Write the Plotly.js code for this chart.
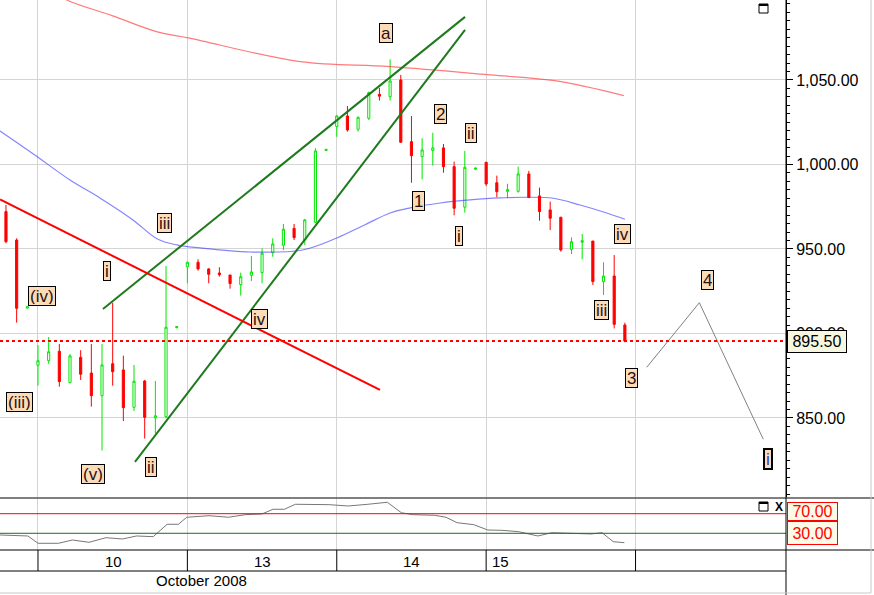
<!DOCTYPE html>
<html><head><meta charset="utf-8">
<script src="https://cdn.plot.ly/plotly-3.0.1.min.js"></script>
<style>html,body{margin:0;padding:0;background:#fff;overflow:hidden}#chart{width:874px;height:595px}</style>
</head><body><div id="chart"></div>
<script>
// ---- candle data (30-min bars, index 0..58) ----
const openP  = [972.1,955.3,915.0,881.2,883.9,889.5,870.9,885.9,876.6,863.2,882.1,878.4,856.3,871.9,850.0,850.8,903.5,939.5,942.1,938.2,935.8,934.6,928.9,934.4,936.0,947.8,952.2,962.2,955.3,965.8,1008.3,1022.4,1028.7,1020.8,1027.3,1041.5,1040.1,1050.0,1013.5,1004.6,1008.2,1009.8,998.7,974.7,997.2,1001.3,989.2,984.1,984.1,994.4,981.4,973.1,968.8,949.8,954.0,954.7,930.7,934.0,905.0];
const highP  = [976.0,956.3,916.0,893.2,897.9,893.8,887.9,890.1,893.8,893.8,918.2,886.9,881.4,872.5,871.9,939.9,904.3,942.5,943.9,938.6,939.2,934.6,936.0,945.9,950.4,956.3,964.8,964.8,967.8,1009.6,1009.2,1029.3,1034.6,1028.3,1043.1,1045.3,1062.2,1053.0,1028.7,1015.5,1018.8,1012.1,1001.7,1008.0,998.2,1001.3,993.4,988.6,998.7,996.2,986.3,978.0,968.8,956.9,958.9,954.7,942.1,946.4,906.4];
const lowP   = [953.4,906.4,915.0,869.1,882.1,868.5,870.5,872.5,856.7,830.7,869.1,848.2,854.1,837.8,840.9,849.8,903.0,929.7,937.2,929.7,933.6,926.5,922.4,931.0,929.7,945.4,949.4,955.3,952.4,965.2,1008.2,1016.4,1019.4,1019.4,1026.3,1037.8,1037.8,1013.1,989.2,991.2,999.3,995.1,969.9,971.5,996.8,987.3,980.6,980.0,983.3,980.4,966.7,961.2,948.4,947.0,943.9,928.7,922.8,903.0,894.8];
const closeP = [954.3,914.9,915.8,883.9,889.2,871.5,886.7,875.9,863.2,881.4,877.4,856.1,871.7,850.4,851.3,903.7,904.0,942.1,938.2,935.0,934.8,929.5,933.6,936.4,947.5,953.0,961.7,956.7,967.2,1008.0,1008.9,1028.7,1020.4,1027.9,1042.5,1040.4,1049.4,1013.1,1005.2,1008.6,1009.8,998.7,974.1,998.3,997.8,988.5,983.9,985.1,994.4,980.4,972.1,968.2,949.4,954.3,954.9,930.7,934.0,905.4,895.5];
const lastPrice = 895.5;

// ---- moving averages (bar index, value) ----
const blueMaX = [-0.56,2.7,6.0,8.8,11.9,14.2,16.0,18.2,22.9,27.8,31.0,33.6,36.0,37.9,40.7,43.5,46.3,48.8,51.3,53.8,56.3,58.0];
const blueMaY = [1019.8,1005.6,990.8,980.2,967.2,955.9,952.4,950.6,948.2,949.4,956.5,964.2,971.3,974.3,977.2,979.0,980.2,980.6,980.0,976.0,971.3,967.6];
const redMaX = [4.0,5.7,10.0,14.1,17.2,27.6,36.0,45.4,51.6,57.9];
const redMaY = [1104.0,1097.3,1087.9,1078.6,1074.7,1060.8,1057.9,1053.0,1049.4,1040.7];

// ---- drawn trend lines ----
const channelUpperX = [9.09, 43.02], channelUpperY = [914.5, 1087.3];
const channelLowerX = [12.09, 43.02], channelLowerY = [824.0, 1079.6];
const redTrendX = [-0.56, 35.05], redTrendY = [979.3, 866.6];
const projX = [60.05, 64.98, 70.97], projY = [880.0, 918.2, 837.4];

// ---- oscillator ----
const rsiX = [-0.56,2.05,3.0,4.92,6.23,7.78,9.37,10.93,12.24,13.8,15.1,16.16,16.94,19.03,20.86,22.43,23.99,25.02,26.08,27.12,30.26,32.09,33.92,35.74,37.05,38.1,40.18,41.23,42.28,43.84,45.15,46.46,48.03,49.85,51.16,54.82,55.86,56.91,57.95];
const rsiY = [26.5,24.5,9.6,9.6,16.3,11.6,21.0,18.4,24.5,23.1,48.4,48.4,62.7,65.9,62.7,68.0,69.4,79.0,79.0,89.2,88.4,85.7,89.2,93.3,72.0,68.0,66.7,62.7,51.6,47.6,36.7,36.1,33.3,24.5,31.2,28.6,31.2,12.9,10.8];
const rsiLevels = [70, 30];

// ---- axis labels ----
const dayBoundaries = [3, 17, 31, 45, 59];
const dayLabels = ['10', '13', '14', '15'];
const dayLabelAt = [10.05, 24, 38, 46.3];
const monthLabel = 'October 2008';
const monthLabelAt = 18.3;

// ---- wave labels ----
const waveText = ['a','iii','i','(iv)','(iii)','(v)','ii','iv','1','2','ii','i','iv','iii','3','4','i'];
const waveX    = [35.66,14.81,9.44,3.37,1.29,8.17,13.61,23.8,38.68,40.72,43.6,42.43,57.81,55.78,58.65,65.7,71.37];
const waveY    = [1077.5,965.4,937.1,922.0,859.5,816.7,820.8,908.7,978.6,1029.7,1018.5,957.9,958.7,913.7,873.5,931.7,825.9];

const FONT = 'Liberation Sans, Arial, sans-serif';
const xRange = [-0.56, 73.1];
const barIdx = openP.map((_, i) => i);
const W = 786, H = 550;
const px = X => X / W, py = Y => (H - Y) / H;

const traces = [
  {type:'scatter', mode:'lines', x:redMaX, y:redMaY, line:{color:'rgba(255,50,50,0.65)', width:1.2, shape:'spline'}, xaxis:'x', yaxis:'y', hoverinfo:'skip'},
  {type:'scatter', mode:'lines', x:blueMaX, y:blueMaY, line:{color:'rgba(50,50,255,0.6)', width:1.2, shape:'spline'}, xaxis:'x', yaxis:'y', hoverinfo:'skip'},
  {type:'candlestick', x:barIdx, open:openP, high:highP, low:lowP, close:closeP, xaxis:'x', yaxis:'y',
   whiskerwidth:0,
   increasing:{line:{color:'#00e600', width:1}, fillcolor:'#ffffff'},
   decreasing:{line:{color:'#ff0000', width:1}, fillcolor:'#ff0000'}, hoverinfo:'skip'},
  {type:'scatter', mode:'lines', x:channelUpperX, y:channelUpperY, line:{color:'#1e7a1e', width:2}, xaxis:'x', yaxis:'y'},
  {type:'scatter', mode:'lines', x:channelLowerX, y:channelLowerY, line:{color:'#1e7a1e', width:2}, xaxis:'x', yaxis:'y'},
  {type:'scatter', mode:'lines', x:redTrendX, y:redTrendY, line:{color:'#ff0000', width:2}, xaxis:'x', yaxis:'y'},
  {type:'scatter', mode:'lines', x:projX, y:projY, line:{color:'#808080', width:1}, xaxis:'x', yaxis:'y'},
  {type:'scatter', mode:'lines', x:rsiX, y:rsiY, line:{color:'#777777', width:1}, xaxis:'x2', yaxis:'y2'}
];

const shapes = [
  {type:'line', xref:'paper', yref:'y', x0:0, x1:1, y0:lastPrice, y1:lastPrice, line:{color:'#ff0000', width:2, dash:'dot'}},
  {type:'line', xref:'paper', yref:'y2', x0:0, x1:1, y0:rsiLevels[0], y1:rsiLevels[0], line:{color:'#ff0000', width:1}},
  {type:'line', xref:'paper', yref:'y2', x0:0, x1:1, y0:rsiLevels[1], y1:rsiLevels[1], line:{color:'#1a6e1a', width:1}},
  {type:'line', xref:'paper', yref:'paper', x0:0, x1:px(874), y0:py(498), y1:py(498), line:{color:'#000', width:1}},
  {type:'line', xref:'paper', yref:'paper', x0:0, x1:px(874), y0:py(550), y1:py(550), line:{color:'#000', width:1}},
  {type:'line', xref:'paper', yref:'paper', x0:0, x1:1, y0:py(571), y1:py(571), line:{color:'#000', width:1}},
  {type:'line', xref:'paper', yref:'paper', x0:1, x1:1, y0:py(0), y1:py(595), line:{color:'#000', width:1}},
  {type:'line', xref:'paper', yref:'paper', x0:px(871), x1:px(871), y0:py(0), y1:py(593), line:{color:'#c8c8c8', width:1}},
  {type:'line', xref:'paper', yref:'paper', x0:0, x1:px(871), y0:py(593), y1:py(593), line:{color:'#c8c8c8', width:1}},
  {type:'rect', xref:'paper', yref:'paper', x0:px(759), x1:px(768), y0:py(13), y1:py(4), line:{color:'#000', width:1}},
  {type:'line', xref:'paper', yref:'paper', x0:px(759), x1:px(768), y0:py(5), y1:py(5), line:{color:'#000', width:2}},
  {type:'rect', xref:'paper', yref:'paper', x0:px(759), x1:px(768), y0:py(511), y1:py(502), line:{color:'#000', width:1}},
  {type:'line', xref:'paper', yref:'paper', x0:px(759), x1:px(768), y0:py(503), y1:py(503), line:{color:'#000', width:2}}
];
dayBoundaries.forEach(b => shapes.push({type:'line', xref:'x', yref:'paper', x0:b, x1:b, y0:py(550), y1:py(571), line:{color:'#000', width:1}}));

const annotations = [];
waveText.forEach((t, i) => {
  const last = i === waveText.length - 1;
  annotations.push({xref:'x', yref:'y', x:waveX[i], y:waveY[i], xanchor:'center', yanchor:'middle', text:t, showarrow:false,
    font:{family:FONT, size:17, color: last ? '#2233ff' : '#2a1010'},
    bgcolor:'#fcdcb8', bordercolor:'#000', borderwidth: last ? 2 : 1, borderpad:1, height:16});
});
dayLabels.forEach((t, i) => annotations.push({xref:'x', yref:'paper', x:dayLabelAt[i], y:py(561.3), xanchor:'center', yanchor:'middle', text:t, showarrow:false, font:{family:FONT, size:15, color:'#000'}}));
annotations.push({xref:'x', yref:'paper', x:monthLabelAt, y:py(580.7), xanchor:'center', yanchor:'middle', text:monthLabel, showarrow:false, font:{family:FONT, size:15, color:'#000'}});
annotations.push({xref:'paper', yref:'y', x:px(787), xanchor:'left', yanchor:'middle', y:lastPrice, text:lastPrice.toFixed(2), showarrow:false,
  font:{family:FONT, size:16, color:'#000'}, bgcolor:'#f7f7e1', bordercolor:'#000', borderwidth:1, borderpad:1, width:56, height:19});
annotations.push({xref:'paper', yref:'paper', x:px(787), xanchor:'left', yanchor:'middle', y:py(511.3), text:rsiLevels[0].toFixed(2), showarrow:false,
  font:{family:FONT, size:16, color:'#ff0000'}, bgcolor:'#fafae6', bordercolor:'#ff0000', borderwidth:1, borderpad:1, width:47, height:15});
annotations.push({xref:'paper', yref:'paper', x:px(787), xanchor:'left', yanchor:'middle', y:py(533), text:rsiLevels[1].toFixed(2), showarrow:false,
  font:{family:FONT, size:16, color:'#ff0000'}, bgcolor:'#fafae6', bordercolor:'#ff0000', borderwidth:1, borderpad:1, width:47, height:20});
annotations.push({xref:'paper', yref:'paper', x:px(778.5), y:py(506.5), xanchor:'center', yanchor:'middle', text:'<b>X</b>', showarrow:false, font:{family:FONT, size:12, color:'#000'}});

const layout = {
  width:874, height:595,
  margin:{l:0, r:88, t:0, b:45, pad:0},
  paper_bgcolor:'#ffffff', plot_bgcolor:'#ffffff',
  showlegend:false, dragmode:false,
  boxgap:0.8, boxgroupgap:0,
  font:{family:FONT, color:'#000'},
  xaxis:{domain:[0,1], anchor:'y', range:xRange, tickvals:dayBoundaries, showticklabels:false, ticks:'',
         showgrid:true, gridcolor:'#d4d4d4', gridwidth:1, zeroline:false, showline:false, rangeslider:{visible:false}, fixedrange:true},
  yaxis:{domain:[py(497),1], anchor:'x', range:[803.25,1097.3], side:'right', dtick:50, tick0:0, tickformat:',.2f',
         showgrid:true, gridcolor:'#d4d4d4', gridwidth:1, zeroline:false, showline:true, linecolor:'#000', linewidth:1,
         ticks:'outside', ticklen:6, tickcolor:'#000', tickwidth:1,
         minor:{dtick:5, ticks:'outside', ticklen:3, tickcolor:'#000', showgrid:false},
         tickfont:{family:FONT, size:16, color:'#000'}, fixedrange:true},
  xaxis2:{domain:[0,1], anchor:'y2', range:xRange, tickvals:dayBoundaries, showticklabels:false, ticks:'',
          showgrid:true, gridcolor:'#d4d4d4', gridwidth:1, zeroline:false, showline:false, fixedrange:true},
  yaxis2:{domain:[0,py(498.3)], anchor:'x2', range:[-4.1,101.4], side:'right', showticklabels:false, ticks:'',
          showgrid:false, zeroline:false, showline:false, fixedrange:true},
  shapes:shapes,
  annotations:annotations
};

Plotly.newPlot('chart', traces, layout, {staticPlot:true, displayModeBar:false});
</script>
</body></html>
